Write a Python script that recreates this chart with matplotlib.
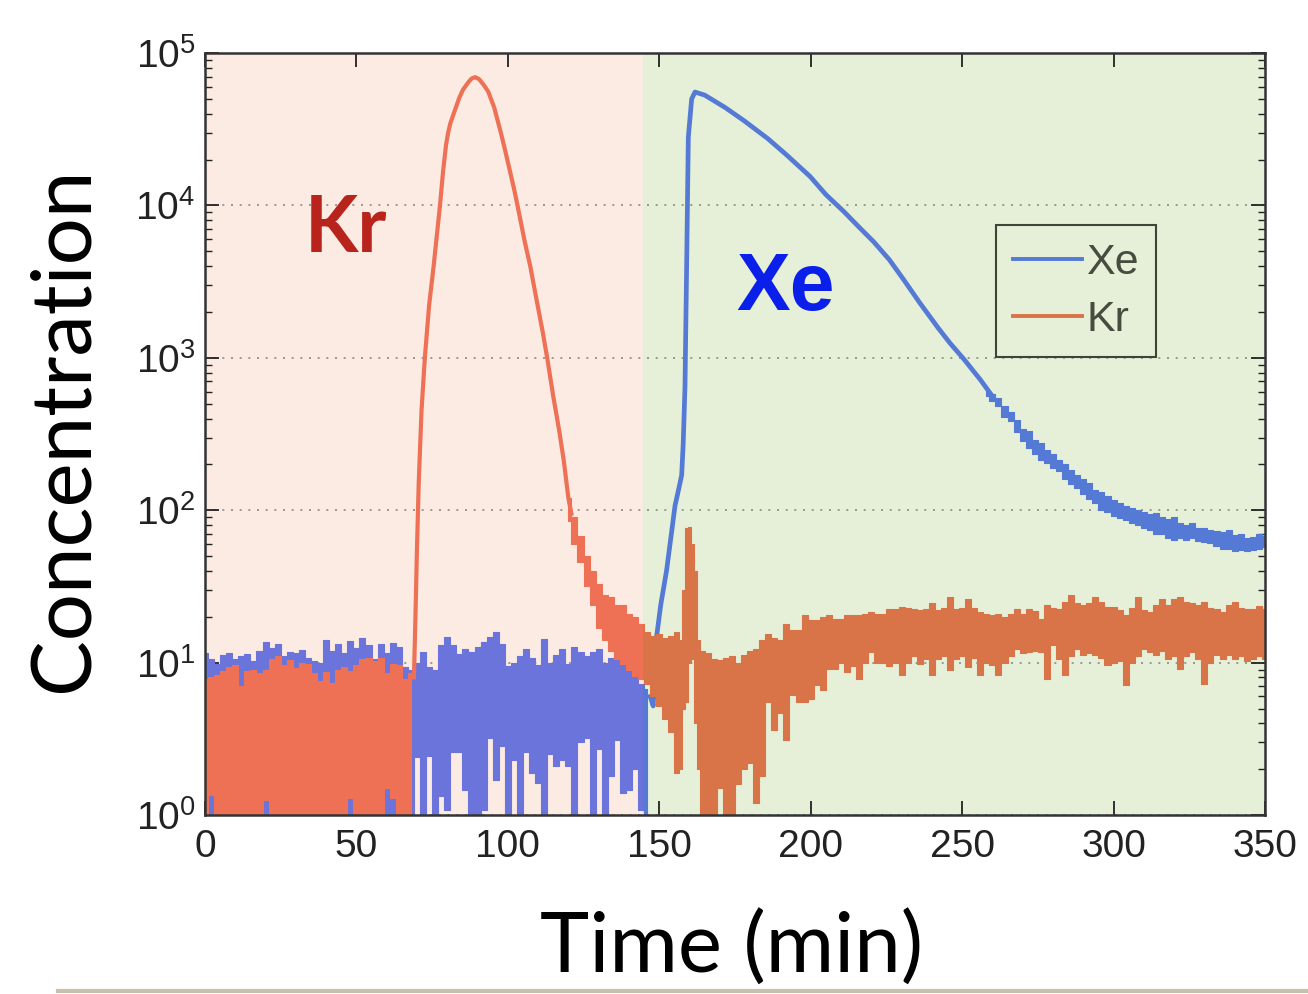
import matplotlib
matplotlib.use("Agg")
import matplotlib.pyplot as plt
from matplotlib.patches import Rectangle
from matplotlib.lines import Line2D
from matplotlib.ticker import LogLocator, NullFormatter

plt.rcParams['font.family'] = ['Liberation Sans', 'DejaVu Sans']

# ---- data (time in min, concentration) ----
# noisy baselines before the breakthrough, 2 min steps
t_base = list(range(0, 147, 2))
xe_base_hi = [11.5, 10.5, 9.8, 11.2, 11.5, 10.6, 11.0, 11.4, 10.2, 12.0,
              13.6, 12.5, 13.2, 11.0, 11.8, 11.5, 12.2, 10.8, 10.3, 9.9,
              14.0, 12.0, 13.2, 11.5, 13.8, 12.4, 14.6, 13.0, 10.5, 13.2,
              11.6, 13.4, 12.6, 9.4, 9.0,
              10.0, 11.7, 9.3, 9.0, 13.0, 14.7, 13.0, 11.4, 12.3, 11.8,
              12.7, 13.7, 14.7, 15.9, 13.3, 9.5, 10.0, 11.0, 12.3, 10.8,
              9.6, 14.3, 10.0, 11.2, 12.3, 9.8, 12.7, 11.7, 11.0, 11.7,
              12.3, 10.0, 10.8, 11.4, 9.8, 9.1, 8.0, 7.2, 6.7]
xe_base_lo = [0.9] * 35 + [
              2.4, 0.9, 2.45, 0.9, 1.33, 1.08, 2.6, 2.6, 1.46, 0.9,
              0.9, 1.08, 3.2, 1.7, 2.85, 0.9, 2.3, 0.9, 2.6, 1.9,
              1.63, 0.9, 2.5, 2.1, 2.3, 2.1, 0.9, 3.0, 3.2, 0.9,
              2.7, 0.9, 1.8, 3.1, 1.4, 1.46, 2.0, 1.08, 0.9]

t_kr_base = list(range(0, 69, 2))
kr_base_hi = [7.8, 8.0, 8.3, 8.8, 9.3, 9.6, 7.0, 8.8, 9.0, 8.6,
              9.0, 10.5, 11.0, 9.6, 10.4, 9.2, 10.0, 9.8, 8.5, 7.6,
              8.7, 7.4, 8.9, 9.3, 8.8, 9.6, 10.6, 10.8, 10.2, 10.8,
              8.6, 9.8, 9.6, 7.8, 8.5]
kr_base_lo = [0.9, 1.35, 0.9, 0.9, 0.9, 0.9, 0.9, 0.9, 0.9, 0.9,
              1.25, 0.9, 0.9, 0.9, 0.9, 0.9, 0.9, 0.9, 0.9, 0.9,
              0.9, 0.9, 0.9, 0.9, 1.3, 0.9, 0.9, 0.9, 0.9, 0.9,
              1.5, 1.3, 0.9, 0.9, 0.9]

# Kr elution peak
t_kr_peak = [69.0, 69.5, 70.0, 70.6, 71.5, 72.6, 74.0, 75.5, 77.6, 78.6,
             79.6, 80.3, 81.0, 82.4, 84.0, 85.2, 87.0, 88.0, 89.2, 90.5,
             92.0, 93.5, 95.5, 97.7, 99.0, 100.5, 102.0, 103.2, 105.5, 107.4,
             109.5, 111.6, 113.0, 115.0, 117.0, 118.5, 120.0, 121.0]
kr_peak = [8, 20, 56, 155, 450, 1000, 2200, 4000, 10000, 16600,
           25000, 30000, 34500, 41500, 51000, 57500, 64500, 68000, 69500, 67500,
           62000, 56000, 44000, 30000, 23500, 17500, 13000, 10000, 5900, 4000,
           2400, 1450, 1000, 560, 330, 210, 120, 95]

# Kr tail and late baseline (noisy band)
t_kr_tail = (list(range(120, 157, 2)) + [157, 158, 159, 160, 161, 162, 163]
             + list(range(164, 351, 2)))
kr_tail_hi = [120, 90, 68, 50, 40, 33, 28, 27, 24, 24,
              21, 20, 18, 16, 15, 15.5, 14.5, 15, 16,
              14, 30, 76, 78, 60, 40, 14,
              12, 11.5, 10.6, 10.4, 10.8, 11, 10, 11.2, 12, 12.3,
              14, 15.4, 14.5, 14, 17.9, 16.5, 16.4, 20.6, 19, 19.1,
              20, 20.6, 19.4, 19.4, 20.6, 20.6, 20.6, 21, 21.6, 21,
              21, 22.6, 22.6, 23.3, 23, 22.6, 22, 22.6, 24.5, 22,
              23, 27, 22.6, 23, 26, 23, 21.6, 21, 20.6, 21,
              20, 21, 22.6, 21, 22.6, 21.8, 19.4, 24, 23, 22.6,
              25, 28, 24.5, 24, 24.5, 27, 25, 23.3, 23.3, 22,
              20.6, 23, 27, 22, 21.6, 24, 26, 24, 26, 27,
              25, 24.5, 24, 25, 23, 22.6, 21.6, 24, 25, 23,
              22.6, 22.6, 23.5, 22.6]
kr_tail_lo = [85, 60, 46, 32, 24, 17, 14, 12, 10.5, 9.8,
              9, 8.2, 7.8, 7.3, 6.0, 5.2, 4.3, 3.5, 1.9,
              2.0, 5.0, 5.5, 10, 10.6, 4, 2.0,
              0.9, 0.9, 0.9, 1.5, 0.9, 0.9, 1.6, 2.0, 2.2, 1.2,
              1.8, 5.5, 3.6, 4.7, 3.1, 6.1, 5.5, 5.5, 5.8, 7.1,
              6.6, 9.1, 9.1, 10, 8.7, 9.5, 7.8, 10, 11.7, 10,
              10, 9.5, 10, 8.3, 10, 11, 9.8, 10.5, 8.3, 10.5,
              11, 9, 10.5, 11, 9.4, 10.8, 8.3, 10, 9.6, 8.3,
              10, 11, 12.3, 11.5, 11.7, 12, 11.7, 7.8, 13, 10.5,
              8.3, 11, 12.3, 11.2, 11.5, 11.2, 10.8, 9.6, 10, 10.3,
              7.1, 10, 11, 12.3, 11.8, 11.2, 12, 10.6, 11, 9.1,
              11, 11.7, 10.5, 7.2, 10, 11.2, 10.5, 11.2, 10.6, 11,
              10.2, 10.6, 11, 10.6]

# Xe breakthrough and desorption
t_xe_peak = [147, 148, 149.1, 150.5, 152.4, 154, 155.2, 156.5, 157.4, 157.9,
             158.5, 159.1, 159.6, 160.7, 161.8, 165, 171.7, 178, 185.8, 192,
             199.8, 205, 211, 216, 220.9, 226, 230.8, 236, 242, 246,
             250.6, 256, 260]
xe_peak = [6, 5.2, 14.7, 24, 40, 70, 107, 140, 170, 270,
           650, 4900, 28000, 50000, 55500, 53000, 44000, 36000, 27500, 21500,
           15500, 11800, 9100, 7200, 5750, 4400, 3240, 2300, 1580, 1250,
           980, 720, 560]

t_xe_tail = list(range(258, 351, 2))
xe_tail_hi = [620, 580, 545, 480, 440, 390, 340, 330, 290, 275,
              250, 235, 215, 200, 185, 170, 160, 150, 135, 132,
              125, 116, 112, 106, 104, 100, 98, 95, 96, 90,
              88, 90, 83, 80, 82, 77, 76, 74, 73, 72,
              74, 69, 70, 66, 67, 70, 68]
xe_tail_lo = [565, 520, 480, 410, 385, 325, 285, 255, 235, 215,
              205, 190, 180, 160, 148, 140, 128, 118, 112, 100,
              98, 92, 89, 86, 82, 80, 76, 74, 70, 70,
              66, 64, 66, 64, 66, 63, 62, 61, 58, 56,
              56, 54, 55, 54, 55, 56, 57]

split_t = 144.7
x_max = 350

# colours seen under the pink (left) and green (right) panels
xe_colors = ('#6A74DA', '#557AD6')
kr_colors = ('#EE7055', '#D87448')

fig = plt.figure(figsize=(13.08, 9.94), dpi=100)
ax = fig.add_axes([0.1567, 0.180, 0.8104, 0.7666])
ax.set_yscale('log')
ax.set_xlim(0, x_max)
ax.set_ylim(1, 1e5)

ax.axvspan(0, split_t, color='#FCEBE2', zorder=0.1, lw=0)
ax.axvspan(split_t, x_max, color='#E6F0D8', zorder=0.1, lw=0)


def clip_to(artist, x0, x1):
    r = Rectangle((x0, 1), x1 - x0, 1e5 - 1, transform=ax.transData)
    artist.set_clip_path(r)


def band(t, lo, hi, colors, z):
    for c, (x0, x1) in zip(colors, [(0, split_t), (split_t, x_max)]):
        p = ax.fill_between(t, lo, hi, step='mid', color=c, lw=0.8, zorder=z)
        clip_to(p, x0, x1)


def curve(t, y, colors, z, lw=3.0):
    for c, (x0, x1) in zip(colors, [(0, split_t), (split_t, x_max)]):
        ln, = ax.plot(t, y, color=c, lw=lw, zorder=z, solid_joinstyle='round')
        clip_to(ln, x0, x1)


band(t_base, xe_base_lo, xe_base_hi, xe_colors, 2)
curve(t_xe_peak, xe_peak, xe_colors, 2, lw=3.4)
band(t_xe_tail, xe_tail_lo, xe_tail_hi, xe_colors, 2)

band(t_kr_base, kr_base_lo, kr_base_hi, kr_colors, 3)
curve(t_kr_peak, kr_peak, kr_colors, 3)
band(t_kr_tail, kr_tail_lo, kr_tail_hi, kr_colors, 3)

# axes styling (MATLAB-like box)
ax.set_xticks([0, 50, 100, 150, 200, 250, 300, 350])
ax.yaxis.set_major_locator(LogLocator(base=10, numticks=10))
ax.yaxis.set_minor_locator(LogLocator(base=10, subs=range(2, 10), numticks=20))
ax.yaxis.set_minor_formatter(NullFormatter())
ax.tick_params(which='both', direction='in', top=True, right=True, colors='#222222')
ax.tick_params(which='major', length=10, width=1.3, labelsize=28)
ax.tick_params(which='minor', length=5, width=1.0)
ax.tick_params(axis='x', pad=10)
ax.tick_params(axis='y', pad=7)
for s in ax.spines.values():
    s.set_color('#333333')
    s.set_linewidth(1.8)
    s.set_zorder(5)
ax.grid(True, axis='y', which='major', color='#8a8a8a', linestyle=(0, (1.2, 4)), lw=1.2)
ax.set_axisbelow(True)
for gl in ax.get_ygridlines():
    gl.set_zorder(1)

ax.text(0.133, 0.739, 'Kr', transform=ax.transAxes, ha='center', va='baseline',
        fontsize=56, fontweight='bold', family=['Lato', 'DejaVu Sans'], color='#B8231B', zorder=6)
ax.text(0.548, 0.663, 'Xe', transform=ax.transAxes, ha='center', va='baseline',
        fontsize=58, fontweight='bold', color='#0A1FEA', zorder=6)

handles = [Line2D([], [], color=xe_colors[1], lw=2.8),
           Line2D([], [], color=kr_colors[1], lw=2.8)]
leg = ax.legend(handles, ['Xe', 'Kr'], loc='lower left', bbox_to_anchor=(0.746, 0.601),
                borderaxespad=0, fontsize=31, handlelength=1.6, handletextpad=0.1,
                borderpad=0.4, labelspacing=0.4, fancybox=False, framealpha=1,
                facecolor='#E6F0D8', edgecolor='#3F4438')
leg.get_frame().set_linewidth(1.5)
leg.set_zorder(7)
for txt in leg.get_texts():
    txt.set_color('#474C3F')

fig.text(0.049, 0.568, 'Concentration', rotation=90, ha='center', va='center',
         fontsize=60, family=['Lato', 'DejaVu Sans'], color='black')
fig.text(0.5596, 0.0211, 'Time (min)', ha='center', va='baseline',
         fontsize=60, family=['Lato', 'DejaVu Sans'], color='black')

fig.add_artist(Line2D([0.044, 1.0], [0.003, 0.003], transform=fig.transFigure,
                      color='#C9C0B0', lw=3))

fig.savefig('out.png', dpi=100)
